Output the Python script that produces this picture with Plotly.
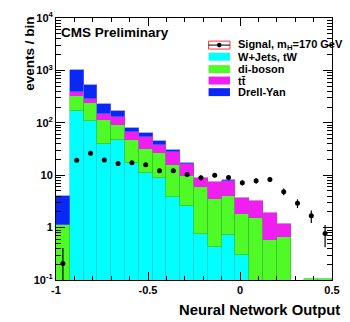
import plotly.graph_objects as go

# 20 bins of 0.075 from -1 to 0.5
bin_lo = -1.0
bin_w = 0.075
n_bins = 20
centers = [bin_lo + bin_w * (i + 0.5) for i in range(n_bins)]

# stacked backgrounds (per-component contents)
wjets = [0, 171, 107, 38.8, 46.9, 17.1, 11.2, 9.0, 3.8, 2.63,
         0.77, 0.43, 0.71, 0.30, 0, 0, 0, 0, 0, 0]
diboson = [1.1, 148, 131, 72, 42, 29.8, 20, 17.9, 11.7, 7.1,
           5.1, 3.1, 3.36, 1.53, 1.51, 0.57, 0.67, 0, 0.104, 0.104]
ttbar = [0, 61, 50, 39, 43, 20, 22.2, 10.3, 11.9, 6.7,
         3.15, 4.0, 3.6, 1.77, 1.76, 1.31, 0.48, 0, 0, 0]
dy = [2.85, 643, 243, 82, 34, 13, 11, 7.6, 3.3, 0.8,
      0, 0, 0.5, 0, 0, 0, 0, 0, 0, 0]

# signal mH = 170 GeV
signal = [0.207, 19.3, 26.2, 19.6, 16.7, 17.2, 15.9, 12.1, 12.1, 10.3,
          8.9, 10.0, 9.0, 7.2, 7.8, 8.3, 4.85, 2.91, 1.68, 0.77]
signal_err = [0.2, 1.4, 1.6, 1.4, 1.3, 1.3, 1.25, 1.1, 1.1, 1.0,
              0.95, 1.0, 0.95, 0.85, 0.9, 0.9, 0.7, 0.55, 0.45, 0.35]

bkgs = [
    ("W+Jets, tW", wjets, "#00FFFF", "#22CCCC"),
    ("di-boson", diboson, "#4FFA26", "#33BB33"),
    ("tt\u0304", ttbar, "#F01EF0", "#C040C0"),
    ("Drell-Yan", dy, "#0A28F5", "#6A6AFF"),
]

fig = go.Figure()
for name, vals, col, lcol in bkgs:
    # empty bins -> no bar at all (else a zero-height outline shows up)
    yv = [v if v > 0 else None for v in vals]
    fig.add_trace(go.Bar(x=centers, y=yv, width=bin_w, name=name,
                         marker=dict(color=col, line=dict(color=lcol, width=0.6))))

fig.add_trace(go.Scatter(x=centers, y=signal, mode='markers', name='Signal',
                         marker=dict(color='black', size=5),
                         error_y=dict(type='data', array=signal_err, color='black',
                                      thickness=1.2, width=0)))

font = "Liberation Sans, Arial, sans-serif"
fig.update_layout(
    width=350, height=322,
    barmode='stack', bargap=0,
    showlegend=False,
    plot_bgcolor='white', paper_bgcolor='white',
    margin=dict(l=56, r=10, t=16, b=42),
    font=dict(family=font, size=11, color='black'),
)
fig.update_xaxes(range=[-1, 0.5], tickvals=[-1, -0.5, 0, 0.5],
                 ticktext=["<b>-1</b>", "<b>-0.5</b>", "<b>0</b>", "<b>0.5</b>"],
                 ticks='inside', ticklen=8, tickcolor='black',
                 minor=dict(dtick=0.1, ticks='inside', ticklen=4, tickcolor='black'),
                 showline=True, linecolor='black', linewidth=1, mirror='allticks',
                 showgrid=False, zeroline=False)
fig.update_yaxes(type='log', range=[-1, 4],
                 tickvals=[0.1, 1, 10, 100, 1000, 10000],
                 ticktext=["<b>10<sup>-1</sup></b>", "<b>1</b>", "<b>10</b>",
                           "<b>10<sup>2</sup></b>", "<b>10<sup>3</sup></b>", "<b>10<sup>4</sup></b>"],
                 ticks='inside', ticklen=9, tickcolor='black',
                 minor=dict(dtick='D1', ticks='inside', ticklen=5, tickcolor='black'),
                 showline=True, linecolor='black', linewidth=1, mirror='allticks',
                 showgrid=False, zeroline=False)

ann = []
ann.append(dict(text="<b>CMS Preliminary</b>", xref='paper', yref='paper',
                x=(59 - 56) / 284, y=1 - (31 - 16) / 264, xanchor='left', yanchor='middle',
                showarrow=False, font=dict(size=13.5, family=font)))
ann.append(dict(text="<b>events / bin</b>", xref='paper', yref='paper',
                x=(28 - 56) / 284, y=1 - (13 - 16) / 264, xanchor='center', yanchor='top',
                textangle=-90, showarrow=False, font=dict(size=13.5, family=font)))
ann.append(dict(text="<b>Neural Network Output</b>", xref='paper', yref='paper',
                x=1, y=-(310 - 280) / 264, xanchor='right', yanchor='middle', xshift=10,
                showarrow=False, font=dict(size=14.8, family=font)))

# legend drawn by hand, ROOT style
leg_labels = ["Signal, m<sub>H</sub>=170 GeV", "W+Jets, tW", "di-boson", "tt\u0304", "Drell-Yan"]
leg_y = [43.3, 55, 67.5, 79, 90.7]
shapes = []
for i, lab in enumerate(leg_labels):
    yc = leg_y[i]
    y0 = 1 - (yc - 4 - 16) / 264
    y1 = 1 - (yc + 4 - 16) / 264
    x0 = (213 - 56) / 284
    x1 = (235 - 56) / 284
    if i == 0:
        shapes.append(dict(type='rect', xref='paper', yref='paper', x0=x0, x1=x1, y0=y0, y1=y1,
                           line=dict(color='#FF3333', width=1), fillcolor='white'))
        ym = 1 - (yc - 16) / 264
        shapes.append(dict(type='line', xref='paper', yref='paper', x0=x0, x1=x1, y0=ym, y1=ym,
                           line=dict(color='black', width=1)))
        shapes.append(dict(type='circle', xref='paper', yref='paper',
                           x0=(224 - 2.3 - 56) / 284, x1=(224 + 2.3 - 56) / 284,
                           y0=1 - (yc - 2.3 - 16) / 264, y1=1 - (yc + 2.3 - 16) / 264,
                           fillcolor='black', line=dict(width=0)))
    else:
        col = bkgs[i - 1][2]
        shapes.append(dict(type='rect', xref='paper', yref='paper', x0=x0, x1=x1, y0=y0, y1=y1,
                           line=dict(width=0), fillcolor=col))
    ann.append(dict(text="<b>" + lab + "</b>", xref='paper', yref='paper',
                    x=(241 - 56) / 284, y=1 - (yc - 16) / 264, xanchor='left', yanchor='middle',
                    showarrow=False, font=dict(size=11, family=font)))

fig.update_layout(annotations=ann, shapes=shapes)
# the page body has a default 8px margin; drop it so the figure sits at 0,0
fig.write_html("out.html", config={'displayModeBar': False},
               post_script="document.body.style.margin='0';")
